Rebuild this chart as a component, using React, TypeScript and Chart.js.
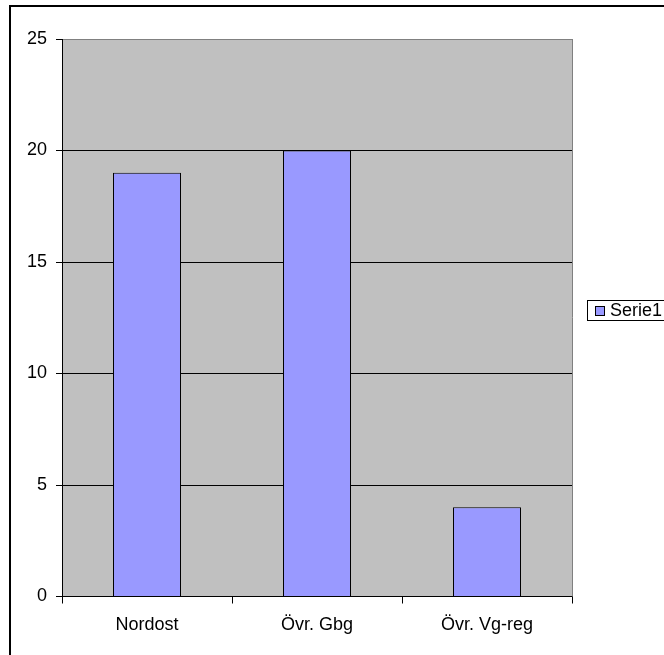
import { useEffect, useRef } from "react";
import { Chart, registerables } from "chart.js";

Chart.register(...registerables);

// Chart data
const categories = ["Nordost", "Övr. Gbg", "Övr. Vg-reg"];
const serie1 = [19, 20, 4];
const seriesLabel = "Serie1";
const yMin = 0;
const yMax = 25;
const yStep = 5;

const FONT = "'Liberation Sans', Arial, sans-serif";
const BAR_FILL = "#9999FF";
const PLOT_FILL = "#C0C0C0";
const PLOT_EDGE = "#808080";

const WIDTH = 664;
const HEIGHT = 655;

// Page frame, grey plot background, plot edge and boxed legend
const decorPlugin = {
  id: "decor",
  beforeDraw(chart: any) {
    const { ctx, chartArea: a } = chart;
    ctx.save();
    ctx.fillStyle = "#ffffff";
    ctx.fillRect(0, 0, chart.width, chart.height);
    ctx.strokeStyle = "#000000";
    ctx.lineWidth = 2;
    ctx.strokeRect(10, 6, chart.width + 40, chart.height + 40);
    ctx.fillStyle = PLOT_FILL;
    ctx.fillRect(a.left, a.top, a.right - a.left, a.bottom - a.top);
    ctx.restore();
  },
  beforeDatasetsDraw(chart: any) {
    const { ctx, chartArea: a } = chart;
    ctx.save();
    ctx.strokeStyle = PLOT_EDGE;
    ctx.lineWidth = 1;
    ctx.beginPath();
    ctx.moveTo(Math.round(a.right) + 0.5, a.top);
    ctx.lineTo(Math.round(a.right) + 0.5, a.bottom);
    ctx.stroke();
    ctx.restore();
  },
  afterDraw(chart: any) {
    const { ctx, chartArea: a } = chart;
    const ds = chart.data.datasets[0];
    const boxX = Math.round(a.right) + 15;
    const boxY = 300;
    const boxH = 21;
    ctx.save();
    ctx.strokeStyle = "#000000";
    ctx.lineWidth = 1;
    ctx.strokeRect(boxX + 0.5, boxY + 0.5, 200, boxH - 1);
    // series swatch
    ctx.fillStyle = ds.backgroundColor;
    ctx.fillRect(boxX + 8, boxY + 6, 9, 9);
    ctx.strokeRect(boxX + 8.5, boxY + 6.5, 9, 9);
    ctx.fillStyle = "#000000";
    ctx.font = `18px ${FONT}`;
    ctx.textAlign = "left";
    ctx.textBaseline = "middle";
    ctx.fillText(ds.label, boxX + 23, boxY + 11);
    ctx.restore();
  },
};

export default function App() {
  const canvasRef = useRef<HTMLCanvasElement | null>(null);

  useEffect(() => {
    const canvas = canvasRef.current;
    if (!canvas) return;
    const chart = new Chart(canvas, {
      type: "bar",
      data: {
        labels: categories,
        datasets: [
          {
            label: seriesLabel,
            data: serie1,
            backgroundColor: BAR_FILL,
            borderColor: "#000000",
            borderWidth: 1,
            categoryPercentage: 1,
            barPercentage: 0.4,
          },
        ],
      },
      options: {
        responsive: false,
        animation: false,
        devicePixelRatio: 1,
        layout: { padding: { top: 39, right: 92, bottom: 0, left: 0 } },
        plugins: {
          legend: { display: false },
          tooltip: { enabled: false },
        },
        scales: {
          x: {
            type: "category",
            ticks: {
              color: "#000000",
              font: { family: FONT, size: 18 },
              padding: 11,
              maxRotation: 0,
              autoSkip: false,
            },
            grid: {
              offset: true,
              drawOnChartArea: false,
              tickColor: "#000000",
              tickLength: 7,
            },
            border: { color: "#000000", width: 1 },
            afterFit: (s: any) => {
              s.height = 58.5;
            },
          },
          y: {
            min: yMin,
            max: yMax,
            ticks: {
              stepSize: yStep,
              color: "#000000",
              font: { family: FONT, size: 18 },
              padding: 9,
            },
            grid: {
              color: (c: any) =>
                c.tick && c.tick.value === yMax ? PLOT_EDGE : "#000000",
              tickColor: "#000000",
              tickLength: 6,
              lineWidth: 1,
            },
            border: { color: "#000000", width: 1 },
            afterFit: (s: any) => {
              s.width = 62;
            },
          },
        },
      },
      plugins: [decorPlugin],
    });
    return () => chart.destroy();
  }, []);

  return (
    <div
      style={{
        position: "fixed",
        left: 0,
        top: 0,
        width: WIDTH,
        height: HEIGHT,
        overflow: "hidden",
        background: "#ffffff",
      }}
    >
      <canvas
        ref={canvasRef}
        width={WIDTH}
        height={HEIGHT}
        style={{ display: "block", width: WIDTH, height: HEIGHT }}
      />
    </div>
  );
}
